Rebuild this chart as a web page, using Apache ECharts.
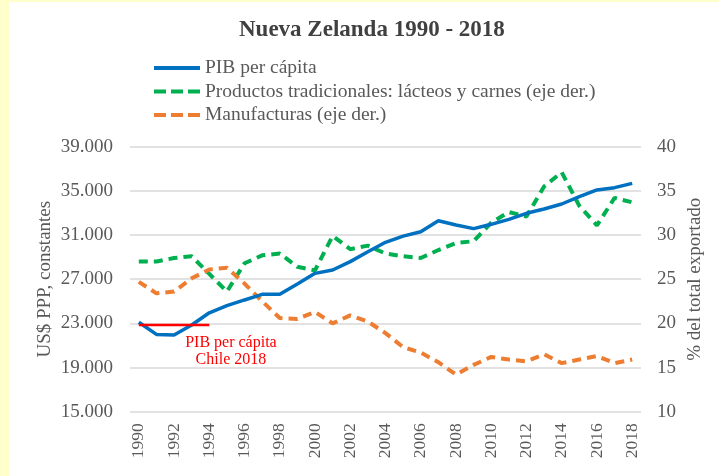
<!DOCTYPE html>
<html>
<head>
<meta charset="utf-8">
<script src="https://cdn.jsdelivr.net/npm/echarts@6/dist/echarts.min.js"></script>
<style>
html,body{margin:0;padding:0;background:#fff;}
#chart{width:719px;height:476px;}
</style>
</head>
<body>
<div id="chart"></div>
<script>
const years = ['1990','1991','1992','1993','1994','1995','1996','1997','1998','1999','2000','2001','2002','2003','2004','2005','2006','2007','2008','2009','2010','2011','2012','2013','2014','2015','2016','2017','2018'];
const pibPerCapita = [23100, 22000, 21950, 22850, 23960, 24600, 25120, 25630, 25630, 26560, 27530, 27830, 28590, 29490, 30340, 30900, 31300, 32300, 31910, 31580, 31970, 32420, 32970, 33360, 33810, 34470, 35080, 35290, 35680];
const tradicionales = [27.0, 27.0, 27.4, 27.6, 25.6, 23.6, 26.8, 27.7, 27.9, 26.4, 26.0, 29.9, 28.4, 28.8, 27.9, 27.6, 27.4, 28.3, 29.1, 29.3, 31.4, 32.6, 32.1, 35.5, 37.1, 33.3, 31.1, 34.2, 33.7];
const manufacturas = [24.7, 23.4, 23.6, 25.1, 26.1, 26.3, 24.5, 22.5, 20.6, 20.5, 21.3, 20.0, 20.9, 20.2, 18.9, 17.3, 16.7, 15.6, 14.2, 15.3, 16.2, 15.9, 15.7, 16.5, 15.5, 15.9, 16.3, 15.5, 15.9];
const chile2018 = [22850, 22850, 22850, 22850, 22850];
const chileLabelPoint = ['1995', 20650];

const FONT = '"Liberation Serif","Times New Roman",serif';
const GREY = '#595959';

const chart = echarts.init(document.getElementById('chart'), null, {renderer: 'canvas'});
chart.setOption({
  backgroundColor: '#ffffff',
  animation: false,
  textStyle: {fontFamily: FONT},
  graphic: [
    {type: 'rect', left: 0, top: 0, shape: {width: 9, height: 476}, style: {fill: '#FFFFCC'}, silent: true},
    {type: 'rect', left: 0, top: 0, shape: {width: 719, height: 2}, style: {fill: '#FFFFCC'}, silent: true}
  ],
  title: {
    text: 'Nueva Zelanda 1990 - 2018',
    left: 234, top: 14,
    textStyle: {fontFamily: FONT, fontSize: 23, fontWeight: 'bold', color: '#404040'}
  },
  legend: {
    orient: 'vertical',
    left: 152, top: 58, padding: 0,
    itemWidth: 46, itemHeight: 14, itemGap: 3.5,
    itemStyle: {opacity: 0, borderWidth: 0},
    textStyle: {fontFamily: FONT, fontSize: 19.5, color: GREY, lineHeight: 20},
    data: [
      {name: 'PIB per cápita', lineStyle: {width: 4, type: 'solid'}},
      {name: 'Productos tradicionales: lácteos y carnes (eje der.)', lineStyle: {width: 4, type: [12, 5]}},
      {name: 'Manufacturas (eje der.)', lineStyle: {width: 4, type: [12, 5]}}
    ]
  },
  grid: {left: 130, right: 78, top: 146.7, bottom: 64.3},
  xAxis: {
    type: 'category',
    data: years,
    boundaryGap: true,
    axisLine: {show: false},
    axisTick: {show: false},
    axisLabel: {interval: 1, rotate: 90, margin: 11.5, fontFamily: FONT, fontSize: 17.5, color: GREY}
  },
  yAxis: [
    {
      type: 'value', min: 15000, max: 39000, interval: 4000,
      name: 'US$ PPP, constantes', nameLocation: 'middle', nameRotate: 90, nameGap: 75.5,
      nameMoveOverlap: false,
      nameTextStyle: {fontFamily: FONT, fontSize: 19, color: GREY},
      axisLine: {show: false}, axisTick: {show: false},
      axisLabel: {margin: 17, fontFamily: FONT, fontSize: 19, color: GREY,
        formatter: v => String(v).replace(/\B(?=(\d{3})+(?!\d))/g, '.')},
      splitLine: {show: true, lineStyle: {color: '#d9d9d9', width: 1.5}}
    },
    {
      type: 'value', min: 10, max: 40, interval: 5, position: 'right',
      name: '% del total exportado', nameLocation: 'middle', nameRotate: 90, nameGap: 44.5,
      nameMoveOverlap: false,
      nameTextStyle: {fontFamily: FONT, fontSize: 19, color: GREY},
      axisLine: {show: false}, axisTick: {show: false},
      axisLabel: {margin: 16, fontFamily: FONT, fontSize: 19, color: GREY},
      splitLine: {show: false}
    }
  ],
  series: [
    {
      name: 'PIB per cápita', type: 'line', yAxisIndex: 0, data: pibPerCapita,
      symbol: 'none', color: '#0070C0',
      lineStyle: {width: 3.5, color: '#0070C0'}, z: 4
    },
    {
      name: 'Productos tradicionales: lácteos y carnes (eje der.)', type: 'line', yAxisIndex: 1, data: tradicionales,
      symbol: 'none', color: '#00B050',
      lineStyle: {width: 4, color: '#00B050', type: [9, 6]}, z: 3
    },
    {
      name: 'Manufacturas (eje der.)', type: 'line', yAxisIndex: 1, data: manufacturas,
      symbol: 'none', color: '#ED7D31',
      lineStyle: {width: 4, color: '#ED7D31', type: [9, 6]}, z: 3
    },
    {
      name: 'Chile 2018', type: 'line', yAxisIndex: 0, data: chile2018,
      symbol: 'none', color: '#FF0000',
      lineStyle: {width: 2.5, color: '#FF0000'}, z: 5,
      markPoint: {
        symbol: 'circle', symbolSize: 1, itemStyle: {color: 'rgba(0,0,0,0)'},
        label: {show: true, position: 'inside', offset: [4, 2], formatter: 'PIB per cápita\nChile 2018',
          fontFamily: FONT, fontSize: 16, lineHeight: 17, color: '#FF0000', align: 'center'},
        data: [{coord: chileLabelPoint}]
      }
    }
  ]
});
</script>
</body>
</html>
